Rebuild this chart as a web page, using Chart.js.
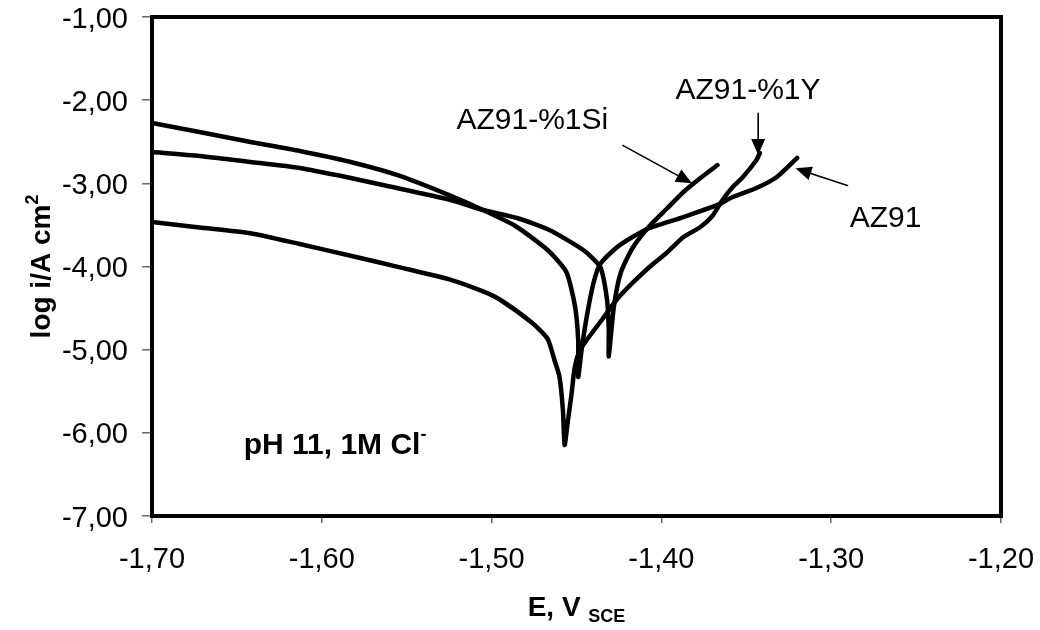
<!DOCTYPE html>
<html>
<head>
<meta charset="utf-8">
<script src="https://cdn.jsdelivr.net/npm/chart.js@4/dist/chart.umd.min.js"></script>
<style>
  html, body { margin: 0; padding: 0; background: #fff; }
  #wrap { width: 1040px; height: 630px; }
</style>
</head>
<body>
<div id="wrap"><canvas id="graph" width="1040" height="630"></canvas></div>
<script>
// potential (V vs SCE) and log current density for each alloy
const az91E    = [-1.700, -1.672, -1.642, -1.613, -1.583, -1.554, -1.524, -1.505, -1.486, -1.467, -1.456, -1.451, -1.449, -1.449, -1.447, -1.444, -1.440, -1.436, -1.426, -1.417, -1.407, -1.387, -1.367, -1.358, -1.344, -1.332, -1.320];
const az91LogI = [-2.275, -2.383, -2.503, -2.611, -2.743, -2.910, -3.150, -3.321, -3.513, -3.802, -4.066, -4.463, -4.884, -5.329, -5.004, -4.607, -4.198, -3.970, -3.766, -3.645, -3.537, -3.405, -3.260, -3.164, -3.056, -2.924, -2.695];

const siE    = [-1.700, -1.672, -1.642, -1.613, -1.583, -1.564, -1.524, -1.505, -1.485, -1.466, -1.446, -1.436, -1.432, -1.431, -1.431, -1.428, -1.424, -1.417, -1.407, -1.397, -1.387, -1.377, -1.367];
const siLogI = [-2.623, -2.671, -2.743, -2.816, -2.936, -3.020, -3.200, -3.321, -3.417, -3.561, -3.802, -4.006, -4.403, -4.764, -5.080, -4.487, -4.078, -3.778, -3.513, -3.309, -3.104, -2.936, -2.780];

const yE    = [-1.700, -1.672, -1.642, -1.613, -1.583, -1.554, -1.524, -1.505, -1.495, -1.476, -1.467, -1.463, -1.460, -1.458, -1.457, -1.455, -1.453, -1.451, -1.448, -1.444, -1.436, -1.426, -1.417, -1.407, -1.397, -1.387, -1.377, -1.370, -1.364, -1.358, -1.352, -1.344, -1.342];
const yLogI = [-3.465, -3.530, -3.600, -3.730, -3.870, -4.010, -4.160, -4.300, -4.400, -4.680, -4.870, -5.124, -5.329, -5.726, -6.146, -5.846, -5.545, -5.208, -5.004, -4.884, -4.667, -4.391, -4.198, -4.006, -3.838, -3.645, -3.525, -3.393, -3.200, -3.044, -2.924, -2.719, -2.635];

const eTicks = [-1.70, -1.60, -1.50, -1.40, -1.30, -1.20];
const logITicks = [-7, -6, -5, -4, -3, -2, -1];

// curve labels: text position and arrow (from -> to), in data units
const labelText  = ['AZ91-%1Si', 'AZ91-%1Y', 'AZ91'];
const labelAt    = [[-1.476, -2.25], [-1.349, -1.89], [-1.268, -3.42]];
const arrowFrom  = [[-1.423, -2.54], [-1.343, -2.15], [-1.290, -3.03]];
const arrowTo    = [[-1.382, -3.00], [-1.343, -2.66], [-1.321, -2.82]];
const conditionAt = [-1.646, -6.12];

const FONT = "'Liberation Sans', Arial, sans-serif";
const pts = (xs, ys) => xs.map((v, i) => ({ x: v, y: ys[i] }));
const comma = v => v.toFixed(2).replace('.', ',');

function curve(label, xs, ys) {
  return {
    label: label,
    data: pts(xs, ys),
    showLine: true,
    borderColor: '#000',
    borderWidth: 4.5,
    pointRadius: 0,
    tension: 0.2,
    borderJoinStyle: 'round',
    borderCapStyle: 'round'
  };
}

// draw a row of text pieces (with sub/superscripts)
function runs(ctx, parts, x, y, align) {
  let w = 0;
  parts.forEach(p => { ctx.font = p.font; w += ctx.measureText(p.t).width; });
  let cx = align === 'center' ? x - w / 2 : x;
  ctx.textAlign = 'left';
  ctx.textBaseline = 'alphabetic';
  parts.forEach(p => {
    ctx.font = p.font;
    ctx.fillText(p.t, cx, y + (p.dy || 0));
    cx += ctx.measureText(p.t).width;
  });
}

function arrow(ctx, x1, y1, x2, y2) {
  const ang = Math.atan2(y2 - y1, x2 - x1);
  const len = 16, half = 7;
  ctx.lineWidth = 1.6;
  ctx.beginPath();
  ctx.moveTo(x1, y1);
  ctx.lineTo(x2 - Math.cos(ang) * len * 0.8, y2 - Math.sin(ang) * len * 0.8);
  ctx.stroke();
  ctx.beginPath();
  ctx.moveTo(x2, y2);
  ctx.lineTo(x2 - Math.cos(ang) * len - Math.sin(ang) * half, y2 - Math.sin(ang) * len + Math.cos(ang) * half);
  ctx.lineTo(x2 - Math.cos(ang) * len + Math.sin(ang) * half, y2 - Math.sin(ang) * len - Math.cos(ang) * half);
  ctx.closePath();
  ctx.fill();
}

const overlay = {
  id: 'overlay',
  afterDraw(chart) {
    const { ctx, chartArea: a, scales: { x, y } } = chart;
    ctx.save();
    ctx.strokeStyle = '#000';
    ctx.fillStyle = '#000';
    ctx.lineWidth = 4;
    ctx.strokeRect(a.left, a.top, a.right - a.left, a.bottom - a.top);

    // tick labels, comma decimals
    ctx.font = '29px ' + FONT;
    ctx.textBaseline = 'alphabetic';
    ctx.textAlign = 'center';
    eTicks.forEach(v => ctx.fillText(comma(v), x.getPixelForValue(v), a.bottom + 52));
    ctx.textAlign = 'right';
    logITicks.forEach(v => ctx.fillText(comma(v), a.left - 24, y.getPixelForValue(v) + 10.5));

    // curve labels and arrows
    labelText.forEach((t, i) => {
      ctx.font = '30px ' + FONT;
      ctx.textAlign = 'center';
      ctx.textBaseline = 'middle';
      ctx.fillText(t, x.getPixelForValue(labelAt[i][0]), y.getPixelForValue(labelAt[i][1]));
      arrow(ctx, x.getPixelForValue(arrowFrom[i][0]), y.getPixelForValue(arrowFrom[i][1]),
                 x.getPixelForValue(arrowTo[i][0]), y.getPixelForValue(arrowTo[i][1]));
    });

    // test condition
    runs(ctx, [
      { t: 'pH 11, 1M Cl', font: 'bold 30px ' + FONT },
      { t: '-', font: 'bold 18px ' + FONT, dy: -14 }
    ], x.getPixelForValue(conditionAt[0]), y.getPixelForValue(conditionAt[1]) + 11, 'left');

    // x axis title
    runs(ctx, [
      { t: 'E, V ', font: 'bold 28px ' + FONT },
      { t: 'SCE', font: 'bold 18px ' + FONT, dy: 6 }
    ], (a.left + a.right) / 2, 616, 'center');

    // y axis title
    ctx.translate(40, (a.top + a.bottom) / 2);
    ctx.rotate(-Math.PI / 2);
    runs(ctx, [
      { t: 'log i/A cm', font: 'bold 28px ' + FONT },
      { t: '2', font: 'bold 18px ' + FONT, dy: -12 }
    ], 0, 10, 'center');
    ctx.restore();
  }
};

new Chart(document.getElementById('graph').getContext('2d'), {
  type: 'scatter',
  data: {
    datasets: [
      curve('AZ91', az91E, az91LogI),
      curve('AZ91-%1Si', siE, siLogI),
      curve('AZ91-%1Y', yE, yLogI)
    ]
  },
  options: {
    responsive: false,
    animation: false,
    layout: { padding: { top: 17, right: 39, left: 0, bottom: 0 } },
    plugins: { legend: { display: false }, tooltip: { enabled: false } },
    scales: {
      x: {
        type: 'linear',
        min: -1.7,
        max: -1.2,
        afterBuildTicks: s => { s.ticks = eTicks.map(v => ({ value: v })); },
        afterFit: s => { s.height = 114; },
        border: { display: false },
        grid: { drawOnChartArea: false, drawTicks: true, tickLength: 7, color: '#666', lineWidth: 1.5 },
        ticks: { display: false }
      },
      y: {
        min: -7,
        max: -1,
        afterBuildTicks: s => { s.ticks = logITicks.map(v => ({ value: v })); },
        afterFit: s => { s.width = 152; },
        border: { display: false },
        grid: { drawOnChartArea: false, drawTicks: true, tickLength: 10, color: '#666', lineWidth: 1.5 },
        ticks: { display: false }
      }
    }
  },
  plugins: [overlay]
});
</script>
</body>
</html>
